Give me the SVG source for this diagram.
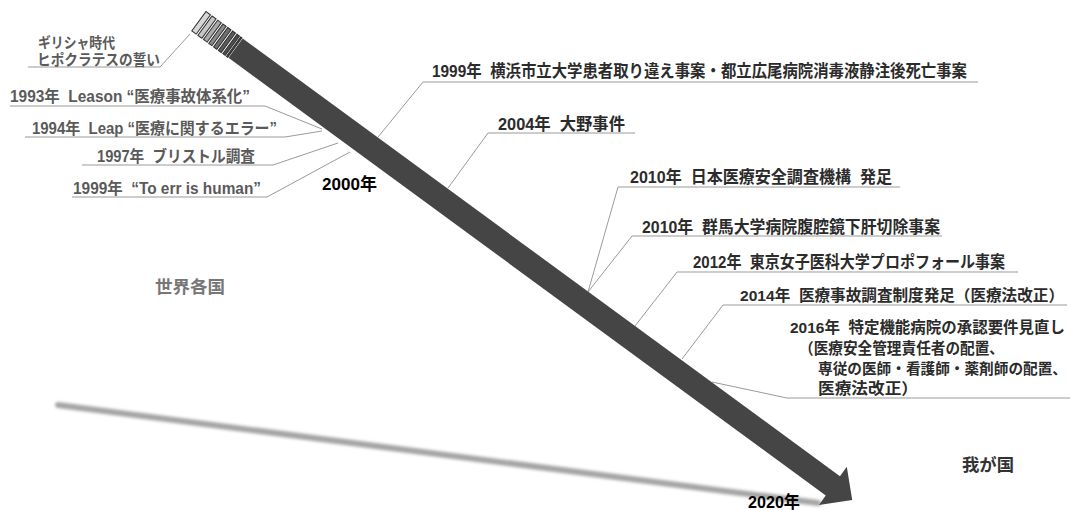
<svg xmlns="http://www.w3.org/2000/svg" width="1071" height="510" viewBox="0 0 1071 510">
<defs>
<style>
text{font-family:"Liberation Sans","Noto Sans CJK JP",sans-serif;font-weight:bold;white-space:pre}
.l{font-size:16px;fill:#5a5a5a}
.g{font-size:15px;fill:#5a5a5a}
.r{font-size:16.5px;fill:#2b2b2b}
.r2{font-size:15.5px;fill:#2b2b2b}
.yr{font-size:17px;fill:#000}
.region{font-size:17.5px}
.lead{fill:none;stroke:#9a9a9a;stroke-width:1}
.stripe{stroke:#2e2e2e;stroke-width:1}
</style>
<filter id="blur" x="-5%" y="-50%" width="110%" height="200%"><feGaussianBlur stdDeviation="1.6"/></filter>
</defs>
<rect width="1071" height="510" fill="#ffffff"/>
<g id="world-trend">
<line x1="58" y1="405" x2="818" y2="503" stroke="#a4a4a4" stroke-width="6" stroke-linecap="round" filter="url(#blur)"/>
</g>
<g id="connectors">
<polyline class="lead" points="28,67 160,67 190,34"/>
<polyline class="lead" points="10,106 265,106 322,129"/>
<polyline class="lead" points="25,137 285,137 322,131"/>
<polyline class="lead" points="82,165 273,165 338,143"/>
<polyline class="lead" points="72,197 267,197 350,152"/>
<polyline class="lead" points="978,82 423,82 378,137"/>
<polyline class="lead" points="635,133 488,133 448,188"/>
<polyline class="lead" points="900,187 618,187 588,292"/>
<polyline class="lead" points="942,236 632,236 588,292"/>
<polyline class="lead" points="1018,272 677,272 635,326"/>
<polyline class="lead" points="1067,305 723,305 682,359"/>
<polyline class="lead" points="1070,398 787,398 712,382"/>
</g>
<g id="timeline-arrow" transform="translate(198.9 21.2) rotate(36.24)">
<rect class="stripe" x="0" y="-12" width="5.5" height="24" fill="#d6d6d6"/>
<rect class="stripe" x="7.5" y="-12" width="5" height="24" fill="#c6c6c6"/>
<rect class="stripe" x="14.5" y="-12" width="4.5" height="24" fill="#aaaaaa"/>
<rect class="stripe" x="21" y="-12" width="4" height="24" fill="#8c8c8c"/>
<rect class="stripe" x="27" y="-12" width="4" height="24" fill="#707070"/>
<rect class="stripe" x="33" y="-12" width="3.5" height="24" fill="#5c5c5c"/>
<rect class="stripe" x="38.5" y="-12" width="3" height="24" fill="#4e4e4e"/>
<rect class="stripe" x="43" y="-12" width="1.5" height="24" fill="#474747"/>
<polygon points="45.5,-12 786,-12 786,-23.6 810,0 786,23.6 786,12 45.5,12" fill="#454545"/>
</g>
<g id="n-greece"><text class="g" x="38" y="48" textLength="77" lengthAdjust="spacingAndGlyphs">ギリシャ時代</text><text class="g" x="37" y="65" textLength="123" lengthAdjust="spacingAndGlyphs">ヒポクラテスの誓い</text></g>
<g id="n-1993"><text class="l" x="10" y="102" textLength="240" lengthAdjust="spacingAndGlyphs">1993年  Leason “医療事故体系化”</text></g>
<g id="n-1994"><text class="l" x="32" y="134" textLength="245" lengthAdjust="spacingAndGlyphs">1994年  Leap “医療に関するエラー”</text></g>
<g id="n-1997"><text class="l" x="97" y="162" textLength="158" lengthAdjust="spacingAndGlyphs">1997年  ブリストル調査</text></g>
<g id="n-1999w"><text class="l" x="73" y="194" textLength="188" lengthAdjust="spacingAndGlyphs">1999年  “To err is human”</text></g>
<g id="n-1999j"><text class="r" x="432" y="77" textLength="535" lengthAdjust="spacingAndGlyphs">1999年  横浜市立大学患者取り違え事案・都立広尾病院消毒液静注後死亡事案</text></g>
<g id="n-2004"><text class="r" x="498" y="130" textLength="127" lengthAdjust="spacingAndGlyphs">2004年  大野事件</text></g>
<g id="n-2010a"><text class="r" x="630" y="183" textLength="262" lengthAdjust="spacingAndGlyphs">2010年  日本医療安全調査機構  発足</text></g>
<g id="n-2010b"><text class="r" x="642" y="233" textLength="298" lengthAdjust="spacingAndGlyphs">2010年  群馬大学病院腹腔鏡下肝切除事案</text></g>
<g id="n-2012"><text class="r" x="693" y="268" textLength="312" lengthAdjust="spacingAndGlyphs">2012年  東京女子医科大学プロポフォール事案</text></g>
<g id="n-2014"><text class="r2" x="740" y="301" textLength="324" lengthAdjust="spacingAndGlyphs">2014年  医療事故調査制度発足（医療法改正）</text></g>
<g id="n-2016">
<text class="r2" x="790" y="333" textLength="275" lengthAdjust="spacingAndGlyphs">2016年  特定機能病院の承認要件見直し</text>
<text class="r2" x="799" y="354" textLength="205" lengthAdjust="spacingAndGlyphs">（医療安全管理責任者の配置、</text>
<text class="r2" x="818" y="374" textLength="249" lengthAdjust="spacingAndGlyphs" style="font-size:14.6px">専従の医師・看護師・薬剤師の配置、</text>
<text class="r2" x="818" y="394" textLength="100" lengthAdjust="spacingAndGlyphs">医療法改正）</text>
</g>
<g id="n-2000"><text class="yr" x="322" y="190" textLength="55" lengthAdjust="spacingAndGlyphs">2000年</text></g>
<g id="n-2020"><text class="yr" x="748" y="508" textLength="52" lengthAdjust="spacingAndGlyphs">2020年</text></g>
<g id="n-world"><text class="region" x="155" y="293" fill="#777777" textLength="70" lengthAdjust="spacingAndGlyphs">世界各国</text></g>
<g id="n-japan"><text class="region" x="962" y="471" fill="#333333" textLength="52" lengthAdjust="spacingAndGlyphs">我が国</text></g>
</svg>
